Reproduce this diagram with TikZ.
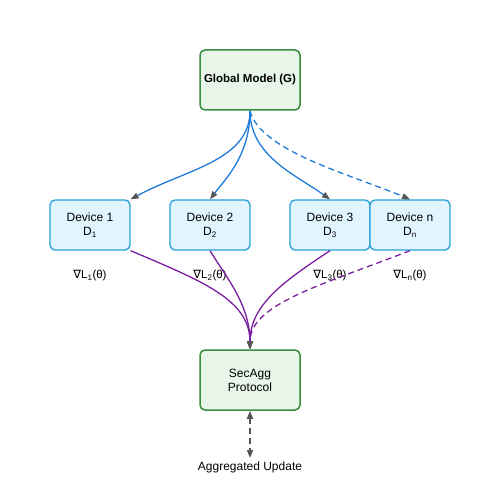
\documentclass[tikz,border=0pt]{standalone}
\usepackage{fontspec}
\setmainfont{Liberation Sans}
\newfontfamily\symfont{DejaVu Sans}
\usetikzlibrary{arrows.meta, positioning, calc}
\definecolor{modelgreen}{HTML}{388E3C}
\definecolor{modelfill}{HTML}{E8F5E9}
\definecolor{devblue}{HTML}{2A9FDB}
\definecolor{devfill}{HTML}{E1F5FE}
\definecolor{sendblue}{HTML}{1E7BD8}
\definecolor{gradpurple}{HTML}{7B1FA2}
\definecolor{tipgray}{HTML}{555555}

\tikzset{
  modelbox/.style={draw=modelgreen, fill=modelfill, line width=1.5pt, rounded corners=5pt,
    minimum width=100pt, minimum height=60pt, align=center, inner sep=2pt},
  devbox/.style={draw=devblue, fill=devfill, line width=1.3pt, rounded corners=5pt,
    minimum width=80pt, minimum height=50pt, align=center, inner sep=2pt,
    font=\fontsize{12}{14}\selectfont},
  gradlabel/.style={font=\fontsize{11.5}{13}\selectfont},
  longdash/.style={dash pattern=on 6pt off 4pt},
  sendline/.style={sendblue, line width=1.3pt, -{Triangle[length=8pt, width=6pt, color=tipgray]}},
  gradline/.style={gradpurple, line width=1.3pt, -{Triangle[length=8pt, width=6pt, color=tipgray]}},
  outline/.style={tipgray, line width=1.6pt, longdash,
    {Triangle[length=8pt, width=6pt]}-{Triangle[length=8pt, width=6pt]}}
}

\newcommand{\gradof}[1]{{\symfont ∇}L\textsubscript{#1}(θ)}

\begin{document}
\begin{tikzpicture}[x=1pt, y=-1pt]
  \useasboundingbox (0,0) rectangle (500,500);

  % Global model
  \node[modelbox, font=\fontsize{11.5}{13}\selectfont\bfseries] (glob) at (250,80) {Global Model (G)};

  % Devices
  \node[devbox] (dev1) at (90,225) {Device 1\\D\textsubscript{1}};
  \node[devbox] (dev2) at (210,225) {Device 2\\D\textsubscript{2}};
  \node[devbox] (dev3) at (330,225) {Device 3\\D\textsubscript{3}};
  \node[devbox] (devn) at (410,225) {Device n\\D\textsubscript{n}};

  % Local gradients
  \node[gradlabel] (grad1) at (90,276) {\gradof{1}};
  \node[gradlabel] (grad2) at (210,276) {\gradof{2}};
  \node[gradlabel] (grad3) at (330,276) {\gradof{3}};
  \node[gradlabel] (gradn) at (410,276) {\gradof{n}};

  % Aggregation
  \node[modelbox, font=\fontsize{12}{14}\selectfont] (sec) at (250,380) {SecAgg\\Protocol};
  \node[font=\fontsize{12}{14}\selectfont, anchor=north] (agg) at (250,458) {Aggregated Update};

  % Broadcast of the model
  \draw[sendline] (glob.south) .. controls +(0,50) and +(55,-30) .. (dev1.north east);
  \draw[sendline] (glob.south) .. controls +(0,45) and +(15,-20) .. (dev2.north);
  \draw[sendline] (glob.south) .. controls +(0,45) and +(-35,-25) .. (dev3.north);
  \draw[sendline, longdash] (glob.south) .. controls +(10,40) and +(-60,-25) .. (devn.north);

  % Gradients to the aggregator
  \draw[gradline] (dev1.south east) .. controls +(70,30) and +(0,-50) .. (sec.north);
  \draw[gradline] (dev2.south) .. controls +(15,25) and +(0,-45) .. (sec.north);
  \draw[gradline] (dev3.south) .. controls +(-45,30) and +(0,-45) .. (sec.north);
  \draw[gradline, longdash] (devn.south) .. controls +(-90,35) and +(0,-45) .. (sec.north);

  % Output
  \draw[outline] (sec.south) -- (agg.north);
\end{tikzpicture}
\end{document}
